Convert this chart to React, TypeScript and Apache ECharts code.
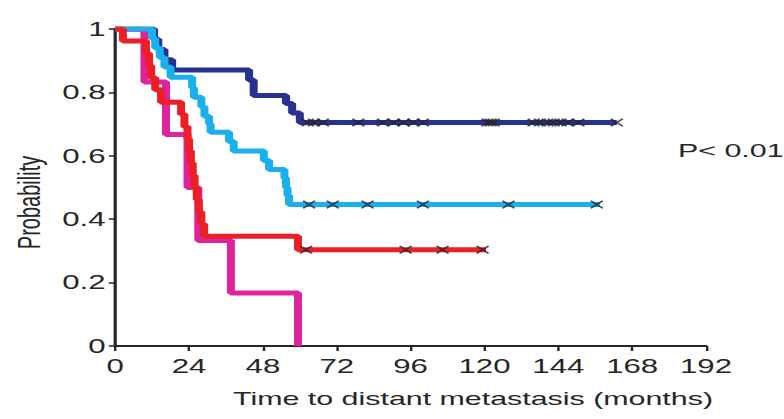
import React, { useEffect, useRef } from "react";
import * as echarts from "echarts";

// the reference picture is horizontally stretched; we draw in a narrower box and stretch it
const STRETCH = 1.6;
const W = 784 / STRETCH;
const H = 419;

const xTicks = [0, 24, 48, 72, 96, 120, 144, 168, 192];
const yTicks = [0, 0.2, 0.4, 0.6, 0.8, 1];

// Kaplan-Meier curves: time of each step (months) and probability after the step
const navyT = [0, 12.6, 14, 16, 18.5, 43.5, 45, 55.5, 57.5, 60, 163];
const navyS = [1, 0.968, 0.935, 0.903, 0.871, 0.839, 0.79, 0.765, 0.735, 0.705, 0.705];
const navyCensor = [62.6, 64.6, 67.5, 79, 87, 90.5, 93.7, 97, 100, 121, 122, 123, 136, 138, 140.5, 142.5, 144.7, 147, 150.5, 163];

const cyanT = [0, 12, 13, 14.5, 16, 18, 25, 25.6, 28, 29, 30.5, 31, 37, 38.5, 48.3, 50, 55, 55.5, 56, 56.5, 157.5];
const cyanS = [1, 0.97, 0.94, 0.91, 0.88, 0.848, 0.815, 0.785, 0.755, 0.725, 0.7, 0.674, 0.645, 0.615, 0.585, 0.557, 0.53, 0.5, 0.475, 0.446, 0.446];
const cyanCensor = [63, 70.7, 82, 100, 127.8, 156.5];

const redT = [0, 2.5, 10, 11, 11.7, 13, 14.9, 21.4, 22.5, 23.5, 24, 24.6, 25.2, 25.8, 26.5, 27.2, 28, 28.9, 59.4, 120.5];
const redS = [1, 0.962, 0.923, 0.885, 0.846, 0.808, 0.769, 0.731, 0.692, 0.654, 0.615, 0.577, 0.538, 0.5, 0.462, 0.423, 0.385, 0.346, 0.304, 0.304];
const redCensor = [62, 94.4, 106.4, 119.4];

const magT = [0, 9.5, 16.5, 23.5, 27, 37.6, 59.4];
const magS = [1, 0.833, 0.667, 0.5, 0.333, 0.167, 0];

const pValue = "P< 0.01";
const xTitle = "Time to distant metastasis (months)";
const yTitle = "Probability";

const NAVY = "#283090";
const CYAN = "#1ab0ec";
const RED = "#ec1f26";
const MAGENTA = "#de249c";
const INK = "#262626";
const FONT = "'Liberation Sans', Arial, sans-serif";

function pairs(t: number[], s: number[]) {
  return t.map((v, i) => [v, s[i]]);
}
function levelAt(t: number[], s: number[], x: number) {
  let v = s[0];
  for (let i = 0; i < t.length; i++) if (t[i] <= x) v = s[i];
  return v;
}
function censorPts(c: number[], t: number[], s: number[]) {
  return c.map((x) => [x, levelAt(t, s, x)]);
}

export default function App() {
  const ref = useRef<HTMLDivElement>(null);
  useEffect(() => {
    if (!ref.current) return;
    const chart = echarts.init(ref.current, null, { renderer: "svg" });
    const line = (name: string, t: number[], s: number[], color: string) => ({
      name,
      type: "line",
      step: "end",
      data: pairs(t, s),
      showSymbol: false,
      symbol: "none",
      lineStyle: { color, width: 5 },
      itemStyle: { color },
      silent: true,
    });
    const cens = (name: string, c: number[], t: number[], s: number[]) => ({
      name,
      type: "scatter",
      data: censorPts(c, t, s),
      symbol: "path://M0,0L10,10M10,0L0,10",
      symbolSize: 7.5,
      itemStyle: { color: "rgba(0,0,0,0)", borderColor: INK, borderWidth: 1.4 },
      z: 5,
      silent: true,
    });
    chart.setOption({
      animation: false,
      grid: { left: 114 / STRETCH, right: 78 / STRETCH, top: 29, bottom: 73 },
      xAxis: {
        type: "value",
        min: xTicks[0],
        max: xTicks[xTicks.length - 1],
        interval: 24,
        name: xTitle,
        nameLocation: "middle",
        nameGap: 43,
        nameTextStyle: { fontSize: 19, color: INK, fontFamily: FONT, padding: [0, 0, 0, 78] },
        axisLine: { show: true, lineStyle: { color: INK, width: 2 } },
        axisTick: { show: true, length: 5, lineStyle: { color: INK, width: 1.5 } },
        axisLabel: { fontSize: 19.5, color: INK, fontFamily: FONT, margin: 10 },
        splitLine: { show: false },
      },
      yAxis: {
        type: "value",
        min: yTicks[0],
        max: yTicks[yTicks.length - 1],
        interval: 0.2,
        name: yTitle,
        nameLocation: "middle",
        nameRotate: 90,
        nameGap: 38,
        nameTextStyle: { fontSize: 20, color: INK, fontFamily: FONT, padding: [0, 30, 0, 0] },
        axisLine: { show: true, lineStyle: { color: INK, width: 2 } },
        axisTick: { show: true, length: 4, lineStyle: { color: INK, width: 1.5 } },
        axisLabel: { fontSize: 19.5, color: INK, fontFamily: FONT, margin: 6 },
        splitLine: { show: false },
      },
      graphic: [
        {
          type: "text",
          left: 678 / STRETCH,
          top: 141,
          style: { text: pValue, fontSize: 19, fill: INK, fontFamily: FONT },
        },
      ],
      series: [
        line("navy", navyT, navyS, NAVY),
        line("magenta", magT, magS, MAGENTA),
        line("cyan", cyanT, cyanS, CYAN),
        line("red", redT, redS, RED),
        cens("navyC", navyCensor, navyT, navyS),
        cens("cyanC", cyanCensor, cyanT, cyanS),
        cens("redC", redCensor, redT, redS),
      ],
    });
    return () => chart.dispose();
  }, []);
  return (
    <div style={{ position: "fixed", left: 0, top: 0, width: 784, height: H, overflow: "hidden", background: "#fff" }}>
      <div
        ref={ref}
        style={{
          width: W,
          height: H,
          transform: `scaleX(${STRETCH})`,
          transformOrigin: "0 0",
        }}
      />
    </div>
  );
}
